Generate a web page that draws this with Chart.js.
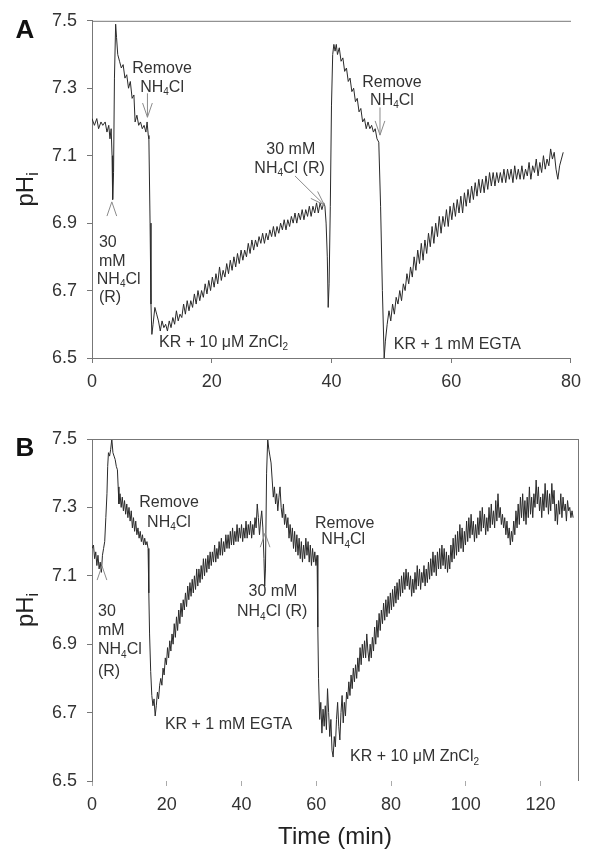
<!DOCTYPE html>
<html>
<head>
<meta charset="utf-8">
<script src="https://cdn.jsdelivr.net/npm/chart.js@4.4.0/dist/chart.umd.min.js"></script>
<style>
  body { margin: 0; background: #fff; }
  #wrap { position: relative; width: 589px; height: 850px; }
  canvas { position: absolute; left: 0; }
</style>
</head>
<body>
<div id="wrap">
  <canvas id="chartA" width="589" height="400" style="top:0"></canvas>
  <canvas id="chartB" width="589" height="450" style="top:400px"></canvas>
</div>
<script>
// ---- data (time in min, pHi) ----
const yTicks = [6.5, 6.7, 6.9, 7.1, 7.3, 7.5];
const xTicksA = [0, 20, 40, 60, 80];
const xTicksB = [0, 20, 40, 60, 80, 100, 120];

const traceA = [
  [0.0,7.21],[0.4,7.19],[0.8,7.21],[1.1,7.18],[1.5,7.20],[1.8,7.19],[2.2,7.20],[2.5,7.17],[2.8,7.19],[3.0,7.15],
  [3.2,7.18],[3.35,7.10],[3.45,6.97],[3.6,7.05],[3.75,7.33],[3.95,7.49],[4.1,7.45],[4.3,7.40],[4.6,7.38],[4.9,7.36],
  [5.2,7.37],[5.5,7.33],[5.8,7.34],[6.1,7.30],[6.4,7.32],[6.7,7.27],[7.0,7.28],[7.2,7.20],[7.5,7.22],[7.8,7.19],
  [8.1,7.20],[8.4,7.18],[8.7,7.19],[9.0,7.17],[9.2,7.20],[9.4,7.16],[9.5,7.15],[9.7,6.90],[9.85,6.66],[10.0,6.57],
  [10.2,6.60],[10.5,6.65],[10.8,6.63],[11.1,6.61],[11.4,6.58],[11.7,6.61],[12.0,6.59],[12.3,6.60],[12.6,6.58],[12.9,6.61],
  [13.2,6.59],[13.5,6.62],[13.8,6.60],[14.1,6.64],[14.4,6.61],[14.7,6.63],[15.0,6.62],[15.3,6.66],[15.6,6.63],[15.9,6.67],
  [16.2,6.64],[16.5,6.67],[16.8,6.65],[17.1,6.69],[17.4,6.66],[17.7,6.70],[18.0,6.67],[18.3,6.70],[18.6,6.68],[18.9,6.72],
  [19.2,6.69],[19.5,6.73],[19.8,6.70],[20.1,6.74],[20.4,6.71],[20.7,6.75],[21.0,6.72],[21.3,6.77],[21.6,6.73],[21.9,6.76],
  [22.2,6.74],[22.5,6.78],[22.8,6.75],[23.1,6.79],[23.4,6.76],[23.7,6.80],[24.0,6.77],[24.3,6.81],[24.6,6.78],[24.9,6.82],
  [25.2,6.79],[25.5,6.82],[25.8,6.80],[26.1,6.84],[26.4,6.81],[26.7,6.85],[27.0,6.82],[27.3,6.85],[27.6,6.83],[27.9,6.86],
  [28.2,6.84],[28.5,6.87],[28.8,6.84],[29.1,6.87],[29.4,6.85],[29.7,6.88],[30.0,6.86],[30.3,6.89],[30.6,6.86],[30.9,6.89],
  [31.2,6.87],[31.5,6.90],[31.8,6.88],[32.1,6.91],[32.4,6.88],[32.7,6.91],[33.0,6.89],[33.3,6.92],[33.6,6.90],[33.9,6.93],
  [34.2,6.90],[34.5,6.93],[34.8,6.91],[35.1,6.94],[35.4,6.91],[35.7,6.94],[36.0,6.92],[36.3,6.95],[36.6,6.92],[36.9,6.95],
  [37.2,6.93],[37.5,6.96],[37.8,6.93],[38.1,6.96],[38.4,6.94],[38.7,6.96],[38.9,6.95],[39.1,6.90],[39.3,6.80],[39.45,6.65],
  [39.6,6.72],[39.8,6.95],[40.0,7.25],[40.2,7.40],[40.4,7.43],[40.6,7.41],[40.8,7.43],[41.0,7.40],[41.3,7.42],[41.6,7.38],
  [41.9,7.39],[42.2,7.35],[42.5,7.36],[42.8,7.32],[43.1,7.33],[43.4,7.29],[43.7,7.30],[44.0,7.26],[44.3,7.27],[44.6,7.23],
  [44.9,7.24],[45.2,7.20],[45.5,7.21],[45.8,7.18],[46.1,7.20],[46.4,7.18],[46.7,7.19],[47.0,7.17],[47.3,7.18],[47.6,7.15],
  [47.9,7.14],[48.2,6.95],[48.5,6.70],[48.8,6.50],[49.0,6.55],[49.3,6.60],[49.6,6.64],[49.9,6.61],[50.2,6.66],[50.5,6.63],
  [50.8,6.68],[51.1,6.66],[51.4,6.70],[51.7,6.67],[52.0,6.72],[52.3,6.70],[52.6,6.75],[52.9,6.72],[53.2,6.77],[53.5,6.74],
  [53.8,6.80],[54.1,6.76],[54.4,6.82],[54.7,6.78],[55.0,6.84],[55.3,6.79],[55.6,6.85],[55.9,6.81],[56.2,6.87],[56.5,6.83],
  [56.8,6.89],[57.1,6.84],[57.4,6.90],[57.7,6.86],[58.0,6.92],[58.3,6.87],[58.6,6.92],[58.9,6.89],[59.2,6.94],[59.5,6.89],
  [59.8,6.95],[60.1,6.91],[60.4,6.96],[60.7,6.92],[61.0,6.97],[61.3,6.93],[61.6,6.98],[61.9,6.93],[62.2,6.99],[62.5,6.95],
  [62.8,7.00],[63.1,6.96],[63.4,7.01],[63.7,6.97],[64.0,7.02],[64.3,6.98],[64.6,7.03],[64.9,6.99],[65.2,7.03],[65.5,6.99],
  [65.8,7.04],[66.1,7.00],[66.4,7.05],[66.7,7.01],[67.0,7.05],[67.3,7.01],[67.6,7.05],[67.9,7.02],[68.2,7.05],[68.5,7.02],
  [68.8,7.06],[69.1,7.02],[69.4,7.06],[69.7,7.03],[70.0,7.06],[70.3,7.02],[70.6,7.07],[70.9,7.03],[71.2,7.06],[71.5,7.03],
  [71.8,7.07],[72.1,7.03],[72.4,7.06],[72.7,7.04],[73.0,7.08],[73.3,7.03],[73.6,7.07],[73.9,7.05],[74.2,7.09],[74.5,7.04],
  [74.8,7.08],[75.1,7.05],[75.4,7.10],[75.7,7.06],[76.0,7.09],[76.3,7.07],[76.6,7.12],[76.9,7.09],[77.2,7.11],[77.5,7.06],
  [77.8,7.03],[78.1,7.07],[78.4,7.09],[78.7,7.11]
];

const traceB = [
  [0.0,7.18],[0.4,7.19],[0.7,7.15],[1.0,7.17],[1.3,7.13],[1.6,7.16],[1.9,7.12],[2.2,7.14],[2.5,7.11],[2.8,7.16],
  [3.1,7.18],[3.4,7.20],[3.7,7.27],[4.0,7.34],[4.2,7.42],[4.4,7.46],[4.7,7.45],[5.0,7.47],[5.3,7.50],[5.6,7.46],
  [5.9,7.45],[6.2,7.44],[6.5,7.42],[6.8,7.41],[7.0,7.36],[7.2,7.31],[7.5,7.34],[7.8,7.30],[8.1,7.33],[8.4,7.29],
  [8.7,7.32],[9.0,7.28],[9.3,7.31],[9.6,7.27],[9.9,7.30],[10.2,7.26],[10.5,7.29],[10.8,7.24],[11.1,7.27],[11.4,7.23],
  [11.7,7.26],[12.0,7.22],[12.3,7.24],[12.6,7.21],[12.9,7.23],[13.2,7.20],[13.5,7.22],[13.8,7.19],[14.1,7.21],[14.4,7.19],
  [14.7,7.20],[15.0,7.18],[15.2,7.05],[15.4,6.93],[15.7,6.82],[16.0,6.75],[16.3,6.72],[16.6,6.74],[16.9,6.69],[17.2,6.72],
  [17.5,6.76],[17.8,6.74],[18.1,6.78],[18.4,6.80],[18.7,6.78],[19.0,6.83],[19.3,6.81],[19.6,6.86],[19.9,6.84],[20.2,6.89],
  [20.5,6.86],[20.8,6.91],[21.1,6.88],[21.4,6.93],[21.7,6.90],[22.0,6.96],[22.3,6.92],[22.6,6.98],[22.9,6.94],[23.2,7.00],
  [23.5,6.96],[23.8,7.02],[24.1,6.98],[24.4,7.03],[24.7,7.00],[25.0,7.05],[25.3,7.01],[25.6,7.07],[25.9,7.03],[26.2,7.08],
  [26.5,7.04],[26.8,7.09],[27.1,7.05],[27.4,7.10],[27.7,7.06],[28.0,7.12],[28.3,7.07],[28.6,7.12],[28.9,7.08],[29.2,7.13],
  [29.5,7.09],[29.8,7.15],[30.1,7.10],[30.4,7.15],[30.7,7.11],[31.0,7.16],[31.3,7.12],[31.6,7.17],[31.9,7.13],[32.2,7.17],
  [32.5,7.14],[32.8,7.19],[33.1,7.14],[33.4,7.18],[33.7,7.15],[34.0,7.20],[34.3,7.16],[34.6,7.21],[34.9,7.16],[35.2,7.20],
  [35.5,7.17],[35.8,7.22],[36.1,7.18],[36.4,7.22],[36.7,7.18],[37.0,7.23],[37.3,7.19],[37.6,7.24],[37.9,7.19],[38.2,7.23],
  [38.5,7.20],[38.8,7.25],[39.1,7.20],[39.4,7.24],[39.7,7.21],[40.0,7.25],[40.3,7.20],[40.6,7.24],[40.9,7.21],[41.2,7.26],
  [41.5,7.21],[41.8,7.25],[42.1,7.22],[42.4,7.26],[42.7,7.21],[43.0,7.25],[43.3,7.22],[43.6,7.27],[43.9,7.24],[44.2,7.31],
  [44.5,7.27],[44.8,7.22],[45.1,7.26],[45.4,7.29],[45.7,7.24],[46.0,7.15],[46.2,7.07],[46.4,7.12],[46.7,7.40],[47.0,7.50],
  [47.3,7.47],[47.6,7.45],[47.9,7.43],[48.2,7.38],[48.5,7.33],[48.8,7.36],[49.1,7.31],[49.4,7.34],[49.7,7.29],[50.0,7.33],
  [50.3,7.36],[50.6,7.30],[50.9,7.27],[51.2,7.31],[51.5,7.25],[51.8,7.28],[52.1,7.24],[52.4,7.27],[52.7,7.21],[53.0,7.25],
  [53.3,7.20],[53.6,7.24],[53.9,7.18],[54.2,7.23],[54.5,7.17],[54.8,7.22],[55.1,7.16],[55.4,7.21],[55.7,7.15],[56.0,7.20],
  [56.3,7.14],[56.6,7.19],[56.9,7.15],[57.2,7.21],[57.5,7.16],[57.8,7.20],[58.1,7.14],[58.4,7.19],[58.7,7.13],[59.0,7.18],
  [59.3,7.14],[59.6,7.17],[59.9,7.13],[60.2,7.16],[60.4,6.95],[60.6,6.80],[60.9,6.68],[61.2,6.73],[61.5,6.64],[61.8,6.71],
  [62.1,6.66],[62.4,6.72],[62.7,6.65],[63.0,6.77],[63.3,6.70],[63.6,6.63],[63.9,6.68],[64.2,6.59],[64.5,6.57],[64.8,6.63],
  [65.1,6.60],[65.4,6.68],[65.7,6.73],[66.0,6.66],[66.3,6.62],[66.6,6.70],[66.9,6.75],[67.2,6.67],[67.5,6.73],[67.8,6.69],
  [68.1,6.76],[68.4,6.74],[68.7,6.79],[69.0,6.75],[69.3,6.81],[69.6,6.77],[69.9,6.83],[70.2,6.79],[70.5,6.84],[70.8,6.80],
  [71.1,6.86],[71.4,6.82],[71.7,6.89],[72.0,6.84],[72.3,6.90],[72.6,6.86],[72.9,6.91],[73.2,6.86],[73.5,6.93],[73.8,6.88],
  [74.1,6.85],[74.4,6.90],[74.7,6.86],[75.0,6.92],[75.3,6.88],[75.6,6.95],[75.9,6.90],[76.2,6.97],[76.5,6.92],[76.8,6.99],
  [77.1,6.94],[77.4,7.00],[77.7,6.96],[78.0,7.02],[78.3,6.97],[78.6,7.03],[78.9,6.98],[79.2,7.04],[79.5,6.99],[79.8,7.05],
  [80.1,7.00],[80.4,7.06],[80.7,7.01],[81.0,7.07],[81.3,7.02],[81.6,7.08],[81.9,7.03],[82.2,7.09],[82.5,7.04],[82.8,7.10],
  [83.1,7.05],[83.4,7.11],[83.7,7.06],[84.0,7.12],[84.3,7.07],[84.6,7.11],[84.9,7.06],[85.2,7.10],[85.5,7.04],[85.8,7.09],
  [86.1,7.05],[86.4,7.11],[86.7,7.06],[87.0,7.13],[87.3,7.07],[87.6,7.12],[87.9,7.06],[88.2,7.11],[88.5,7.08],[88.8,7.13],
  [89.1,7.07],[89.4,7.12],[89.7,7.08],[90.0,7.14],[90.3,7.09],[90.6,7.15],[90.9,7.10],[91.2,7.17],[91.5,7.11],[91.8,7.16],
  [92.1,7.10],[92.4,7.17],[92.7,7.12],[93.0,7.18],[93.3,7.12],[93.6,7.19],[93.9,7.13],[94.2,7.18],[94.5,7.12],[94.8,7.17],
  [95.1,7.11],[95.4,7.16],[95.7,7.12],[96.0,7.19],[96.3,7.14],[96.6,7.21],[96.9,7.15],[97.2,7.22],[97.5,7.16],[97.8,7.23],
  [98.1,7.17],[98.4,7.25],[98.7,7.18],[99.0,7.24],[99.3,7.17],[99.6,7.23],[99.9,7.19],[100.2,7.26],[100.5,7.20],[100.8,7.27],
  [101.1,7.21],[101.4,7.28],[101.7,7.22],[102.0,7.26],[102.3,7.20],[102.6,7.25],[102.9,7.21],[103.2,7.27],[103.5,7.22],[103.8,7.29],
  [104.1,7.23],[104.4,7.30],[104.7,7.24],[105.0,7.28],[105.3,7.22],[105.6,7.27],[105.9,7.23],[106.2,7.30],[106.5,7.24],[106.8,7.31],
  [107.1,7.25],[107.4,7.29],[107.7,7.24],[108.0,7.32],[108.3,7.26],[108.6,7.34],[108.9,7.27],[109.2,7.30],[109.5,7.25],[109.8,7.28],
  [110.1,7.24],[110.4,7.27],[110.7,7.22],[111.0,7.26],[111.3,7.21],[111.6,7.24],[111.9,7.19],[112.2,7.23],[112.5,7.20],[112.8,7.26],
  [113.1,7.22],[113.4,7.29],[113.7,7.24],[114.0,7.31],[114.3,7.25],[114.6,7.33],[114.9,7.27],[115.2,7.34],[115.5,7.26],[115.8,7.32],
  [116.1,7.25],[116.4,7.33],[116.7,7.27],[117.0,7.36],[117.3,7.28],[117.6,7.33],[117.9,7.27],[118.2,7.34],[118.5,7.30],[118.8,7.38],
  [119.1,7.31],[119.4,7.36],[119.7,7.29],[120.0,7.33],[120.3,7.27],[120.6,7.34],[120.9,7.29],[121.2,7.37],[121.5,7.30],[121.8,7.35],
  [122.1,7.28],[122.4,7.34],[122.7,7.29],[123.0,7.37],[123.3,7.31],[123.6,7.35],[123.9,7.26],[124.2,7.31],[124.5,7.25],[124.8,7.32],
  [125.1,7.28],[125.4,7.34],[125.7,7.27],[126.0,7.33],[126.3,7.29],[126.6,7.31],[126.9,7.26],[127.2,7.32],[127.5,7.29],[127.8,7.30],
  [128.1,7.27],[128.4,7.29],[128.7,7.27]
];

// text notes, anchored in (time, pH); '_' = subscript of next char
const notesA = [
  { t: 1.16, ph: 6.842, text: '30', align: 'left' },
  { t: 1.16, ph: 6.786, text: 'mM', align: 'left' },
  { t: 0.8,  ph: 6.733, text: 'NH_4Cl', align: 'left' },
  { t: 1.16, ph: 6.680, text: '(R)', align: 'left' },
  { t: 11.7, ph: 7.358, text: 'Remove', align: 'center' },
  { t: 11.7, ph: 7.302, text: 'NH_4Cl', align: 'center' },
  { t: 33.2, ph: 7.117, text: '30 mM', align: 'center' },
  { t: 33.0, ph: 7.063, text: 'NH_4Cl (R)', align: 'center' },
  { t: 11.2, ph: 6.547, text: 'KR + 10 μM ZnCl_2', align: 'left' },
  { t: 50.1, ph: 7.317, text: 'Remove', align: 'center' },
  { t: 50.1, ph: 7.264, text: 'NH_4Cl', align: 'center' },
  { t: 50.4, ph: 6.541, text: 'KR + 1 mM EGTA', align: 'left' }
];
const arrowsA = [
  { from: [3.31, 6.91],  to: [3.31, 6.963], shaft: false },
  { from: [9.26, 7.285], to: [9.26, 7.214], shaft: true },
  { from: [33.9, 7.040], to: [38.8, 6.954], shaft: true },
  { from: [48.1, 7.243], to: [48.1, 7.161], shaft: true }
];

const notesB = [
  { t: 1.6,  ph: 6.994, text: '30', align: 'left' },
  { t: 1.6,  ph: 6.939, text: 'mM', align: 'left' },
  { t: 1.6,  ph: 6.883, text: 'NH_4Cl', align: 'left' },
  { t: 1.6,  ph: 6.819, text: '(R)', align: 'left' },
  { t: 20.6, ph: 7.313, text: 'Remove', align: 'center' },
  { t: 20.6, ph: 7.257, text: 'NH_4Cl', align: 'center' },
  { t: 48.4, ph: 7.053, text: '30 mM', align: 'center' },
  { t: 48.2, ph: 6.994, text: 'NH_4Cl (R)', align: 'center' },
  { t: 19.5, ph: 6.664, text: 'KR + 1 mM EGTA', align: 'left' },
  { t: 67.6, ph: 7.254, text: 'Remove', align: 'center' },
  { t: 67.2, ph: 7.205, text: 'NH_4Cl', align: 'center' },
  { t: 69.0, ph: 6.570, text: 'KR + 10 μM ZnCl_2', align: 'left' }
];
const arrowsB = [
  { from: [2.67, 7.08],  to: [2.67, 7.129], shaft: false },
  { from: [46.3, 7.19],  to: [46.3, 7.225], shaft: false }
];

const FONT = '"Liberation Sans", Arial, sans-serif';
const AXIS = '#777';
const INK = '#2a2a2a';

function richText(ctx, str, x, y, align, size) {
  const parts = [];
  for (let i = 0; i < str.length; i++) {
    if (str[i] === '_' && i + 1 < str.length) { parts.push({ s: str[i + 1], sub: true }); i++; continue; }
    const last = parts[parts.length - 1];
    if (last && !last.sub) last.s += str[i]; else parts.push({ s: str[i], sub: false });
  }
  let w = 0;
  parts.forEach(p => {
    p.size = p.sub ? Math.round(size * 0.65) : size;
    ctx.font = p.size + 'px ' + FONT;
    p.w = ctx.measureText(p.s).width;
    w += p.w;
  });
  let cx = align === 'center' ? x - w / 2 : align === 'right' ? x - w : x;
  ctx.textAlign = 'left';
  ctx.textBaseline = 'middle';
  parts.forEach(p => {
    ctx.font = p.size + 'px ' + FONT;
    ctx.fillText(p.s, cx, p.sub ? y + size * 0.32 : y);
    cx += p.w;
  });
}

function arrow(ctx, x1, y1, x2, y2, shaft) {
  const ang = Math.atan2(y2 - y1, x2 - x1);
  const len = 15, spread = 0.33;
  ctx.beginPath();
  if (shaft) { ctx.moveTo(x1, y1); ctx.lineTo(x2, y2); }
  ctx.moveTo(x2 - len * Math.cos(ang - spread), y2 - len * Math.sin(ang - spread));
  ctx.lineTo(x2, y2);
  ctx.lineTo(x2 - len * Math.cos(ang + spread), y2 - len * Math.sin(ang + spread));
  ctx.stroke();
}

function panelPlugin(letter, notes, arrows, boxRight, xTitle) {
  return {
    id: 'panel' + letter,
    afterDraw(chart) {
      const { ctx, chartArea: ca, scales: { x, y } } = chart;
      ctx.save();
      // frame lines
      ctx.strokeStyle = AXIS;
      ctx.lineWidth = 1;
      ctx.beginPath();
      ctx.moveTo(ca.left, ca.top + 0.5);
      ctx.lineTo(ca.right, ca.top + 0.5);
      if (boxRight) { ctx.moveTo(ca.right + 0.5, ca.top); ctx.lineTo(ca.right + 0.5, ca.bottom); }
      ctx.stroke();
      // arrows
      ctx.strokeStyle = '#8a8a8a';
      arrows.forEach(a => arrow(ctx, x.getPixelForValue(a.from[0]), y.getPixelForValue(a.from[1]),
        x.getPixelForValue(a.to[0]), y.getPixelForValue(a.to[1]), a.shaft));
      // notes
      ctx.fillStyle = '#333';
      notes.forEach(n => richText(ctx, n.text, x.getPixelForValue(n.t), y.getPixelForValue(n.ph), n.align, 16));
      // panel letter
      ctx.fillStyle = '#111';
      ctx.font = 'bold 26px ' + FONT;
      ctx.textAlign = 'center';
      ctx.textBaseline = 'middle';
      ctx.fillText(letter, 25, ca.top + 10);
      // y title pH_i
      ctx.save();
      ctx.translate(26, (ca.top + ca.bottom) / 2);
      ctx.rotate(-Math.PI / 2);
      ctx.fillStyle = '#222';
      richText(ctx, 'pH_i', 0, 0, 'center', 24);
      ctx.restore();
      if (xTitle) {
        ctx.fillStyle = '#222';
        ctx.font = '24px ' + FONT;
        ctx.textAlign = 'center';
        ctx.textBaseline = 'middle';
        ctx.fillText(xTitle, (ca.left + ca.right) / 2, ca.bottom + 56);
      }
      ctx.restore();
    }
  };
}

function makeChart(id, trace, xMax, xTicks, pad, axisH, showXBorder, plugin) {
  return new Chart(document.getElementById(id), {
    type: 'line',
    data: {
      datasets: [{
        data: trace.map(p => ({ x: p[0], y: p[1] })),
        borderColor: INK,
        borderWidth: 1,
        pointRadius: 0,
        tension: 0,
        fill: false
      }]
    },
    options: {
      responsive: false,
      animation: false,
      layout: { padding: pad },
      plugins: { legend: { display: false }, tooltip: { enabled: false } },
      scales: {
        x: {
          type: 'linear', min: 0, max: xMax,
          afterBuildTicks: a => { a.ticks = xTicks.map(v => ({ value: v })); },
          afterFit: a => { a.height = axisH; },
          ticks: { color: '#333', font: { family: FONT, size: 18 }, padding: 8, maxRotation: 0 },
          grid: { drawOnChartArea: false, drawTicks: true, tickLength: 5, tickColor: showXBorder ? AXIS : '#aaa' },
          border: { display: showXBorder, color: AXIS }
        },
        y: {
          min: 6.5, max: 7.5,
          afterBuildTicks: a => { a.ticks = yTicks.map(v => ({ value: v })); },
          afterFit: a => { a.width = 92; },
          ticks: { color: '#333', font: { family: FONT, size: 18 }, padding: 10, callback: v => v.toFixed(1) },
          grid: { drawOnChartArea: false, drawTicks: true, tickLength: 5, tickColor: AXIS },
          border: { color: AXIS }
        }
      }
    },
    plugins: [plugin]
  });
}

makeChart('chartA', traceA, 80, xTicksA, { left: 0, right: 13, top: 20, bottom: 0 }, 42, true,
  panelPlugin('A', notesA, arrowsA, false, null));
makeChart('chartB', traceB, 130, xTicksB, { left: 0, right: 11, top: 39, bottom: 0 }, 69, false,
  panelPlugin('B', notesB, arrowsB, true, 'Time (min)'));
</script>
</body>
</html>
